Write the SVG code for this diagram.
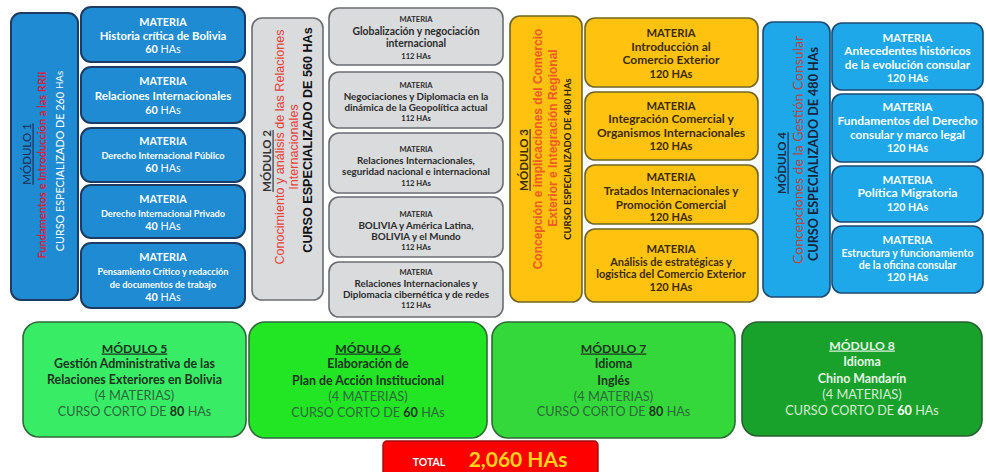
<svg xmlns="http://www.w3.org/2000/svg" width="986" height="472" viewBox="0 0 986 472">
<style>
text{font-family:Lato,"Open Sans",sans-serif;text-anchor:middle}
.b{font-weight:700}
.r{font-weight:400}
.v{dominant-baseline:central}
.u{text-decoration:underline}
.m1{fill:#1f8bd3;stroke:#1d3c63;stroke-width:2}
.m2{fill:#d9dbdd;stroke:#6a6e72;stroke-width:1.6}
.m3{fill:#ffc20e;stroke:#6f6624;stroke-width:1.6}
.m4{fill:#1ea8ea;stroke:#1d4a73;stroke-width:1.6}
.w{fill:#ffffff}
.g{fill:#2b2b2b}
.y{fill:#3a2c00}
.arial{font-family:"Liberation Sans",Arial,sans-serif}
</style>
<rect width="986" height="472" fill="#ffffff"/>

<!-- MODULE 1 -->
<g id="modulo1">
<rect class="m1" x="11" y="13" width="67" height="287" rx="10"/>
<text class="r u v" transform="translate(26,154) rotate(-90)" font-size="11.5" fill="#1a2f52">MÓDULO 1</text>
<text class="b v" transform="translate(41,165) rotate(-90)" font-size="11" fill="#d8213f">Fundamentos e Introducción a las RRII</text>
<text class="r v" transform="translate(59,161) rotate(-90)" font-size="10.8" fill="#ffffff">CURSO ESPECIALIZADO DE 260 <tspan font-size="9.8">HAs</tspan></text>
</g>
<g id="m1s1">
<rect class="m1" x="81" y="7" width="164" height="55" rx="10"/>
<text class="b w" x="163" y="26" font-size="10.8">MATERIA</text>
<text class="b w" x="163" y="39.5" font-size="11.4">Historia crítica de Bolivia</text>
<text class="w" x="163" y="53" font-size="10.8"><tspan class="b">60</tspan> HAs</text>
</g>
<g id="m1s2">
<rect class="m1" x="81" y="67" width="164" height="56" rx="10"/>
<text class="b w" x="163" y="85" font-size="10.8">MATERIA</text>
<text class="b w" x="163" y="100" font-size="11.6">Relaciones Internacionales</text>
<text class="w" x="163" y="114" font-size="10.8"><tspan class="b">60</tspan> HAs</text>
</g>
<g id="m1s3">
<rect class="m1" x="81" y="128" width="164" height="54" rx="10"/>
<text class="b w" x="163" y="145" font-size="10.8">MATERIA</text>
<text class="b w" x="163" y="158.5" font-size="9.2">Derecho Internacional Público</text>
<text class="w" x="163" y="172" font-size="10.8"><tspan class="b">60</tspan> HAs</text>
</g>
<g id="m1s4">
<rect class="m1" x="81" y="185" width="164" height="53" rx="10"/>
<text class="b w" x="163" y="203" font-size="10.8">MATERIA</text>
<text class="b w" x="163" y="216.5" font-size="9.2">Derecho Internacional Privado</text>
<text class="w" x="163" y="229.5" font-size="10.8"><tspan class="b">40</tspan> HAs</text>
</g>
<g id="m1s5">
<rect class="m1" x="81" y="243" width="164" height="65" rx="10"/>
<text class="b w" x="163" y="261" font-size="10.8">MATERIA</text>
<text class="b w" x="163" y="275" font-size="9.2">Pensamiento Crítico y redacción</text>
<text class="b w" x="163" y="287.5" font-size="9.2">de documentos de trabajo</text>
<text class="w" x="163" y="300.5" font-size="10.8"><tspan class="b">40</tspan> HAs</text>
</g>

<!-- MODULE 2 -->
<g id="modulo2">
<rect class="m2" x="252" y="18" width="71" height="282" rx="10"/>
<text class="b u v" transform="translate(266,161) rotate(-90)" font-size="11.5" fill="#333333">MÓDULO 2</text>
<text class="r v arial" transform="translate(280,147) rotate(-90)" font-size="12.6" fill="#e8413c">Conocimiento y análisis de las Relaciones</text>
<text class="r v arial" transform="translate(294,147) rotate(-90)" font-size="12.6" fill="#e8413c">Internacionales</text>
<text class="b v arial" transform="translate(308,140) rotate(-90)" font-size="12.6" fill="#111111">CURSO ESPECIALIZADO DE 560 HAs</text>
</g>
<g id="m2s1">
<rect class="m2" x="329" y="8" width="174" height="57" rx="10"/>
<text class="b g" x="416" y="22" font-size="7.6">MATERIA</text>
<text class="b g" x="416" y="34.5" font-size="10.4">Globalización y negociación</text>
<text class="b g" x="416" y="46.5" font-size="10.4">internacional</text>
<text class="b g" x="416" y="58.5" font-size="7.6">112 HAs</text>
</g>
<g id="m2s2">
<rect class="m2" x="329" y="72" width="174" height="56" rx="10"/>
<text class="b g" x="416" y="88" font-size="7.6">MATERIA</text>
<text class="b g" x="416" y="100" font-size="9.8">Negociaciones y Diplomacia en la</text>
<text class="b g" x="416" y="111" font-size="9.8">dinámica de la Geopolítica actual</text>
<text class="b g" x="416" y="121" font-size="7.6">112 HAs</text>
</g>
<g id="m2s3">
<rect class="m2" x="329" y="133" width="174" height="60" rx="10"/>
<text class="b g" x="416" y="152" font-size="7.6">MATERIA</text>
<text class="b g" x="416" y="164" font-size="9.8">Relaciones Internacionales,</text>
<text class="b g" x="416" y="175" font-size="9.8">seguridad nacional e internacional</text>
<text class="b g" x="416" y="186" font-size="7.6">112 HAs</text>
</g>
<g id="m2s4">
<rect class="m2" x="329" y="197" width="174" height="60" rx="10"/>
<text class="b g" x="416" y="217" font-size="7.6">MATERIA</text>
<text class="b g" x="416" y="228.5" font-size="9.8">BOLIVIA y América Latina,</text>
<text class="b g" x="416" y="239.5" font-size="9.8">BOLIVIA y el Mundo</text>
<text class="b g" x="416" y="250" font-size="7.6">112 HAs</text>
</g>
<g id="m2s5">
<rect class="m2" x="329" y="262" width="174" height="55" rx="10"/>
<text class="b g" x="416" y="275" font-size="7.6">MATERIA</text>
<text class="b g" x="416" y="286.5" font-size="9.8">Relaciones Internacionales  y</text>
<text class="b g" x="416" y="297.5" font-size="9.8">Diplomacia cibernética y de redes</text>
<text class="b g" x="416" y="308" font-size="7.6">112 HAs</text>
</g>

<!-- MODULE 3 -->
<g id="modulo3">
<rect class="m3" x="510" y="16" width="72" height="286" rx="10"/>
<text class="b u v" transform="translate(523,160) rotate(-90)" font-size="11.5" fill="#3a2c00">MÓDULO 3</text>
<text class="b v arial" transform="translate(538,149) rotate(-90)" font-size="12" fill="#ee5a22">Concepción e implicaciones del  Comercio</text>
<text class="b v arial" transform="translate(553,138) rotate(-90)" font-size="12" fill="#ee5a22">Exterior e Integración Regional</text>
<text class="b v" transform="translate(567,159) rotate(-90)" font-size="9.5" fill="#2a2000">CURSO ESPECIALIZADO DE 480 HAs</text>
</g>
<g id="m3s1">
<rect class="m3" x="585" y="18" width="173" height="69" rx="10"/>
<text class="b y" x="671" y="37" font-size="11.2">MATERIA</text>
<text class="b y" x="671" y="50.5" font-size="12">Introducción al</text>
<text class="b y" x="671" y="64" font-size="12">Comercio Exterior</text>
<text class="b y" x="671" y="77.5" font-size="11">120 HAs</text>
</g>
<g id="m3s2">
<rect class="m3" x="585" y="92" width="173" height="68" rx="10"/>
<text class="b y" x="671" y="109.5" font-size="11.2">MATERIA</text>
<text class="b y" x="671" y="123" font-size="12">Integración Comercial y</text>
<text class="b y" x="671" y="136.5" font-size="12">Organismos Internacionales</text>
<text class="b y" x="671" y="150" font-size="11">120 HAs</text>
</g>
<g id="m3s3">
<rect class="m3" x="585" y="165" width="173" height="59" rx="10"/>
<text class="b y" x="671" y="180.5" font-size="11.2">MATERIA</text>
<text class="b y" x="671" y="194.5" font-size="11.6">Tratados Internacionales y</text>
<text class="b y" x="671" y="208.5" font-size="11.6">Promoción Comercial</text>
<text class="b y" x="671" y="221" font-size="11">120 HAs</text>
</g>
<g id="m3s4">
<rect class="m3" x="585" y="229" width="173" height="73" rx="10"/>
<text class="b y" x="671" y="253" font-size="11.2">MATERIA</text>
<text class="b y" x="671" y="266" font-size="11">Análisis de estratégicas y</text>
<text class="b y" x="671" y="278" font-size="11">logistica del Comercio Exterior</text>
<text class="b y" x="671" y="290.5" font-size="11">120 HAs</text>
</g>

<!-- MODULE 4 -->
<g id="modulo4">
<rect class="m4" x="763" y="22" width="67" height="275" rx="10"/>
<text class="b u v" transform="translate(781,163) rotate(-90)" font-size="11.5" fill="#1a2a48">MÓDULO 4</text>
<text class="r v" transform="translate(797,150) rotate(-90)" font-size="14" fill="#b8454a">Concepciones de la  Gestión Consular</text>
<text class="b v" transform="translate(813,154) rotate(-90)" font-size="12.6" fill="#16233a">CURSO ESPECIALIZADO DE 480 HAs</text>
</g>
<g id="m4s1">
<rect class="m4" x="832" y="23" width="151" height="67" rx="10"/>
<text class="b w" x="907.5" y="41.5" font-size="11.4">MATERIA</text>
<text class="b w" x="907.5" y="55" font-size="11.8">Antecedentes históricos</text>
<text class="b w" x="907.5" y="69" font-size="11.8">de la evolución consular</text>
<text class="b w" x="907.5" y="82" font-size="10.6">120 HAs</text>
</g>
<g id="m4s2">
<rect class="m4" x="832" y="94" width="151" height="68" rx="10"/>
<text class="b w" x="907.5" y="111" font-size="11.4">MATERIA</text>
<text class="b w" x="907.5" y="125" font-size="12">Fundamentos del Derecho</text>
<text class="b w" x="907.5" y="139" font-size="11.8">consular y marco legal</text>
<text class="b w" x="907.5" y="152" font-size="10.6">120 HAs</text>
</g>
<g id="m4s3">
<rect class="m4" x="832" y="166" width="151" height="56" rx="10"/>
<text class="b w" x="907.5" y="183.5" font-size="11.4">MATERIA</text>
<text class="b w" x="907.5" y="197" font-size="12.2">Política Migratoria</text>
<text class="b w" x="907.5" y="210.5" font-size="10.6">120 HAs</text>
</g>
<g id="m4s4">
<rect class="m4" x="832" y="226" width="151" height="67" rx="10"/>
<text class="b w" x="907.5" y="243.5" font-size="11.4">MATERIA</text>
<text class="b w" x="907.5" y="256.5" font-size="10.5">Estructura y funcionamiento</text>
<text class="b w" x="907.5" y="268.5" font-size="10.5">de la oficina consular</text>
<text class="b w" x="907.5" y="281" font-size="10.6">120 HAs</text>
</g>

<!-- BOTTOM MODULES -->
<g id="modulo5">
<rect x="23" y="322" width="223" height="115" rx="16" fill="#38ec66" stroke="#2f6a36" stroke-width="1.6"/>
<text class="b u" x="134.5" y="352.5" font-size="12.2" fill="#1d3320">MÓDULO 5</text>
<text class="b" x="134.5" y="368" font-size="12.4" fill="#1d3320">Gestión Administrativa de las</text>
<text class="b" x="134.5" y="384" font-size="12.4" fill="#1d3320">Relaciones Exteriores en Bolivia</text>
<text class="r" x="134.5" y="400" font-size="12.8" fill="#2c6a3a">(4 MATERIAS)</text>
<text class="r" x="134.5" y="416" font-size="12.6" fill="#2c6a3a">CURSO CORTO DE <tspan class="b" fill="#1d3320">80</tspan> HAs</text>
</g>
<g id="modulo6">
<rect x="249" y="322" width="238" height="116" rx="16" fill="#22e524" stroke="#2f6a36" stroke-width="1.6"/>
<text class="b u" x="368" y="352.5" font-size="12.2" fill="#1d3320">MÓDULO 6</text>
<text class="b" x="368" y="368" font-size="12.4" fill="#1d3320">Elaboración de</text>
<text class="b" x="368" y="384.5" font-size="12.4" fill="#1d3320">Plan de Acción Institucional</text>
<text class="r" x="368" y="400.5" font-size="12.8" fill="#2c6a3a">(4 MATERIAS)</text>
<text class="r" x="368" y="416.5" font-size="12.6" fill="#2c6a3a">CURSO CORTO DE <tspan class="b" fill="#1d3320">60</tspan> HAs</text>
</g>
<g id="modulo7">
<rect x="492" y="322" width="243" height="116" rx="16" fill="#34d83a" stroke="#2f6a36" stroke-width="1.6"/>
<text class="b u" x="613.5" y="352.5" font-size="12.2" fill="#1d3320">MÓDULO 7</text>
<text class="b" x="613.5" y="368" font-size="12.4" fill="#1d3320">Idioma</text>
<text class="b" x="613.5" y="384.5" font-size="12.4" fill="#1d3320">Inglés</text>
<text class="r" x="613.5" y="400.5" font-size="12.8" fill="#2c6a3a">(4 MATERIAS)</text>
<text class="r" x="613.5" y="416" font-size="12.6" fill="#2c6a3a">CURSO CORTO DE <tspan class="b" fill="#1d3320">80</tspan> HAs</text>
</g>
<g id="modulo8">
<rect x="742" y="322" width="240" height="114" rx="16" fill="#18a22c" stroke="#2b5e30" stroke-width="1.6"/>
<text class="b u" x="862" y="349.5" font-size="12.2" fill="#e6f5e6">MÓDULO 8</text>
<text class="b" x="862" y="366" font-size="12.4" fill="#e6f5e6">Idioma</text>
<text class="b" x="862" y="382.5" font-size="12.4" fill="#e6f5e6">Chino Mandarín</text>
<text class="r" x="862" y="398.5" font-size="12.8" fill="#d2ecd2">(4 MATERIAS)</text>
<text class="r" x="862" y="414.5" font-size="12.6" fill="#d2ecd2">CURSO CORTO DE <tspan class="b" fill="#ffffff">60</tspan> HAs</text>
</g>

<!-- TOTAL -->
<g id="total">
<rect x="383" y="441" width="215" height="40" rx="4" fill="#ff0000" stroke="#9a1010" stroke-width="1.4"/>
<text class="b" x="429" y="466" font-size="10.5" fill="#ffffff">TOTAL</text>
<text class="b" x="518" y="467" font-size="21" fill="#ffd21c">2,060 HAs</text>
</g>
<g id="connectors"/>
</svg>
